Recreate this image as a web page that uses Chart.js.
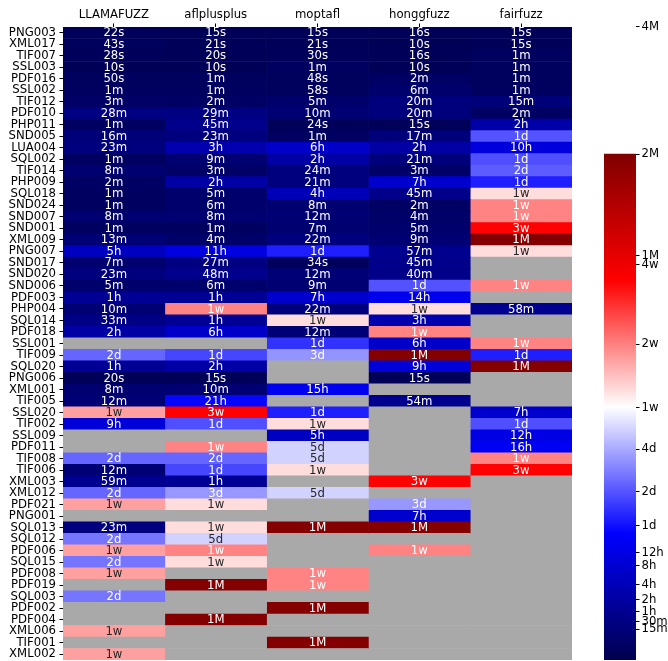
<!DOCTYPE html>
<html>
<head>
<meta charset="utf-8">
<script src="https://cdn.jsdelivr.net/npm/chart.js@4/dist/chart.umd.min.js"></script>
<style>
  html, body { margin: 0; padding: 0; background: #fff; overflow: hidden; }
  #heat { position: absolute; left: 0; top: 0; }
  #cbar { position: absolute; left: 590px; top: 0; }
</style>
</head>
<body>
<canvas id="heat" width="590" height="661"></canvas>
<canvas id="cbar" width="78" height="661"></canvas>
<script>
// time to reach each target, in seconds (null = never reached)
const rows = ['PNG003', 'XML017', 'TIF007', 'SSL003', 'PDF016', 'SSL002', 'TIF012', 'PDF010', 'PHP011',
    'SND005', 'LUA004', 'SQL002', 'TIF014', 'PHP009', 'SQL018', 'SND024', 'SND007', 'SND001', 'XML009',
    'PNG007', 'SND017', 'SND020', 'SND006', 'PDF003', 'PHP004', 'SQL014', 'PDF018', 'SSL001', 'TIF009',
    'SQL020', 'PNG006', 'XML001', 'TIF005', 'SSL020', 'TIF002', 'SSL009', 'PDF011', 'TIF008', 'TIF006',
    'XML003', 'XML012', 'PDF021', 'PNG001', 'SQL013', 'SQL012', 'PDF006', 'SQL015', 'PDF008', 'PDF019',
    'SQL003', 'PDF002', 'PDF004', 'XML006', 'TIF001', 'XML002'];
const fuzzers = ['LLAMAFUZZ', 'aflplusplus', 'moptafl', 'honggfuzz', 'fairfuzz'];

const llamafuzz = [22, 43, 28, 10, 50, 80, 200, 1700, 80,
    980, 1400, 80, 500, 140, 80, 80, 500, 80, 800,
    19000, 440, 1400, 320, 4300, 620, 2000, 7800, null, 200000,
    4300, 20, 500, 740, 1033000, 33500, null, null, 200000, 740,
    3560, 200000, 1033000, null, 1400, 230000, 1033000, 230000, 1033000, null,
    230000, null, null, 1033000, null, 1033000];
const aflplusplus = [15, 21, 20, 10, 70, 75, 140, 1760, 2720,
    1400, 11500, 560, 200, 7800, 320, 380, 500, 80, 260,
    40500, 1640, 2900, 380, 4300, 1190000, 4300, 23000, null, 151000,
    7800, 15, 620, 77000, 2120000, 165000, null, 1190000, 200000, 151000,
    4300, 300000, 745000, null, 745000, 457000, 1190000, 745000, null, 5040000,
    null, null, 5040000, null, null, null];
const moptafl = [15, 21, 30, 75, 48, 58, 320, 620, 24,
    80, 23000, 7800, 1460, 1280, 15500, 500, 740, 440, 1340,
    100800, 34, 740, 560, 26500, 1340, 745000, 740, 124000, 295000,
    null, null, 55000, null, 100800, 745000, 19000, 457000, 457000, 745000,
    null, 457000, null, null, 5040000, null, null, null, 1190000, 1190000,
    null, 5040000, null, null, 5040000, null];
const honggfuzz = [16, 10, 16, 10, 140, 380, 1220, 1220, 15,
    1040, 7800, 1280, 200, 26500, 2720, 140, 260, 320, 560,
    3440, 2720, 2420, 169000, 51500, 745000, 11500, 1190000, 23000, 5040000,
    33500, 15, null, 3260, null, null, null, null, null, null,
    2120000, null, 300000, 26500, 5040000, null, 1190000, null, null, null,
    null, null, null, null, null, null];
const fairfuzz = [15, 15, 70, 70, 70, 75, 920, 140, 9000,
    170000, 37000, 165000, 185000, 100800, 745000, 1190000, 1190000, 2120000, 5040000,
    745000, null, null, 1190000, null, 3500, null, null, 1190000, 100800,
    5040000, null, null, null, 26500, 165000, 44000, 59000, 1190000, 2120000,
    null, null, null, null, null, null, null, null, null, null,
    null, null, null, null, null, null];

const cbTickValues = [900, 1800, 3600, 7200, 14400, 28800, 43200, 86400, 172800, 345600,
    604800, 1209600, 2419200, 2592000, 5184000, 10368000];
const cbTickLabels = ['15m', '30m', '1h', '2h', '4h', '8h', '12h', '1d', '2d', '4d',
    '1w', '2w', '4w', '1M', '2M', '4M'];

const columns = [llamafuzz, aflplusplus, moptafl, honggfuzz, fairfuzz];
const VMAX = 5184000;
const GAMMA = 0.3236;
const FONT = '"DejaVu Sans", sans-serif';
const MISSING = '#a9a9a9';

// power norm, same as the colorbar
function norm(s) {
    return Math.min(1, Math.pow(s / VMAX, GAMMA));
}

// matplotlib "seismic"
const seismic = [[0, 0, 0.3], [0, 0, 1], [1, 1, 1], [1, 0, 0], [0.5, 0, 0]];
function seismicRgb(v) {
    const p = Math.max(0, Math.min(1, v)) * 4;
    const i = Math.min(3, Math.floor(p));
    const f = p - i;
    return seismic[i].map((c, k) => Math.round(255 * (c + (seismic[i + 1][k] - c) * f)));
}

function fmtTime(s) {
    if (s < 60) return Math.floor(s) + 's';
    if (s < 3600) return Math.floor(s / 60) + 'm';
    if (s < 86400) return Math.floor(s / 3600) + 'h';
    if (s < 604800) return Math.floor(s / 86400) + 'd';
    if (s < 2592000) return Math.floor(s / 604800) + 'w';
    return Math.floor(s / 2592000) + 'M';
}

function textColor(rgb) {
    const lin = rgb.map(c => {
        c /= 255;
        return c <= 0.03928 ? c / 12.92 : Math.pow((c + 0.055) / 1.055, 2.4);
    });
    const lum = 0.2126 * lin[0] + 0.7152 * lin[1] + 0.0722 * lin[2];
    return lum > 0.408 ? '#262626' : '#ffffff';
}

const cellText = {
    id: 'cellText',
    afterDatasetsDraw(chart) {
        const ctx = chart.ctx;
        ctx.save();
        ctx.font = '11.7px ' + FONT;
        ctx.textAlign = 'center';
        ctx.textBaseline = 'middle';
        chart.data.datasets.forEach((ds, di) => {
            chart.getDatasetMeta(di).data.forEach((bar, j) => {
                const s = ds.times[j];
                if (s == null) return;
                const p = bar.getProps(['x', 'y', 'base'], true);
                ctx.fillStyle = textColor(seismicRgb(norm(s)));
                ctx.fillText(fmtTime(s), (p.x + p.base) / 2, p.y + 0.5);
            });
        });
        ctx.restore();
    }
};

new Chart(document.getElementById('heat'), {
    type: 'bar',
    data: {
        labels: rows,
        datasets: columns.map((vals, c) => ({
            label: fuzzers[c],
            times: vals,
            data: rows.map(() => [c, c + 1]),
            backgroundColor: vals.map(s => s == null ? MISSING : 'rgb(' + seismicRgb(norm(s)).join(',') + ')'),
            borderWidth: 0,
            barPercentage: 1,
            categoryPercentage: 1,
            grouped: false
        }))
    },
    options: {
        indexAxis: 'y',
        responsive: false,
        animation: false,
        layout: { padding: { left: 0, right: 18, top: 0, bottom: 1 } },
        scales: {
            x: {
                type: 'linear',
                position: 'top',
                min: 0,
                max: 5,
                afterBuildTicks: s => { s.ticks = [0.5, 1.5, 2.5, 3.5, 4.5].map(v => ({ value: v })); },
                afterFit: s => { s.height = 27; s.paddingLeft = 0; s.paddingRight = 0; },
                grid: { drawOnChartArea: false, drawTicks: true, tickLength: 3.5, color: '#000' },
                border: { display: false },
                ticks: {
                    autoSkip: false,
                    maxRotation: 0,
                    padding: 2,
                    color: '#000',
                    font: { family: FONT, size: 11.7 },
                    callback: v => fuzzers[Math.floor(v)]
                }
            },
            y: {
                afterFit: s => { s.width = 63; s.paddingTop = 0; s.paddingBottom = 0; },
                grid: { offset: false, drawOnChartArea: false, drawTicks: true, tickLength: 3.5, color: '#000' },
                border: { display: false },
                ticks: {
                    autoSkip: false,
                    padding: 3.5,
                    color: '#000',
                    font: { family: FONT, size: 11.7 }
                }
            }
        },
        plugins: { legend: { display: false }, tooltip: { enabled: false } }
    },
    plugins: [cellText]
});

// colorbar
new Chart(document.getElementById('cbar'), {
    type: 'bar',
    data: {
        labels: [''],
        datasets: [{
            data: [[0, 1]],
            borderWidth: 0,
            barPercentage: 1,
            categoryPercentage: 1,
            backgroundColor: ctx => {
                const chart = ctx.chart;
                if (!chart.chartArea) return null;
                const y = chart.scales.y;
                const g = chart.ctx.createLinearGradient(0, y.getPixelForValue(0), 0, y.getPixelForValue(1));
                seismic.forEach((c, i) => g.addColorStop(i / 4, 'rgb(' + c.map(v => Math.round(v * 255)).join(',') + ')'));
                return g;
            }
        }]
    },
    options: {
        responsive: false,
        animation: false,
        layout: { padding: { left: 14, right: 0, top: 2.2, bottom: 1 } },
        scales: {
            x: { display: false },
            y: {
                position: 'right',
                min: 0,
                max: 1.3,
                afterBuildTicks: s => { s.ticks = cbTickValues.map(v => ({ value: Math.pow(v / VMAX, GAMMA) })); },
                afterFit: s => { s.width = 32; s.paddingTop = 0; s.paddingBottom = 0; },
                grid: { drawOnChartArea: false, drawTicks: true, tickLength: 3.5, color: '#000' },
                border: { display: false },
                ticks: {
                    autoSkip: false,
                    padding: 2,
                    color: '#000',
                    font: { family: FONT, size: 11.7 },
                    callback: (v, i) => cbTickLabels[i]
                }
            }
        },
        plugins: { legend: { display: false }, tooltip: { enabled: false } }
    }
});
</script>
</body>
</html>
